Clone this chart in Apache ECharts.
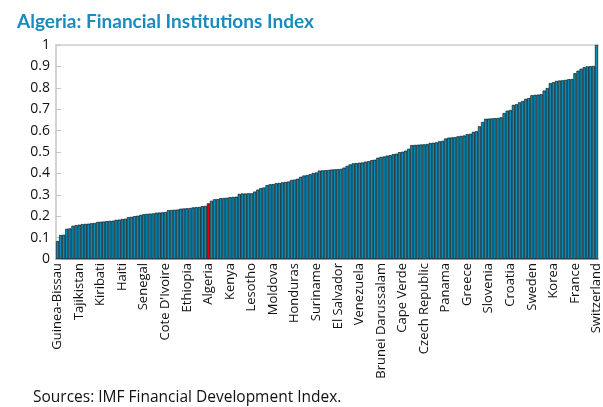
<!DOCTYPE html>
<html>
<head>
<meta charset="utf-8">
<script src="https://cdn.jsdelivr.net/npm/echarts@6/dist/echarts.min.js"></script>
<style>
  html, body { margin: 0; padding: 0; background: #fff; }
  #chart { width: 603px; height: 407px; }
</style>
</head>
<body>
<div id="chart"></div>
<script>
// countries shown on the axis, one label every 7 bars
var labelNames = ['Guinea-Bissau', 'Tajikistan', 'Kiribati', 'Haiti', 'Senegal', "Cote D'Ivoire",
  'Ethiopia', 'Algeria', 'Kenya', 'Lesotho', 'Moldova', 'Honduras', 'Suriname', 'El Salvador',
  'Venezuela', 'Brunei Darussalam', 'Cape Verde', 'Czech Republic', 'Panama', 'Greece', 'Slovenia',
  'Croatia', 'Sweden', 'Korea', 'France', 'Switzerland'];
var labelStep = 7;
var highlight = 'Algeria';

// index values, sorted ascending
var indexValues = [
  0.084, 0.112, 0.113, 0.141, 0.143, 0.155, 0.158, 0.160, 0.163, 0.164,
  0.165, 0.167, 0.168, 0.173, 0.174, 0.175, 0.177, 0.178, 0.179, 0.183,
  0.184, 0.187, 0.188, 0.195, 0.197, 0.200, 0.202, 0.206, 0.209, 0.211,
  0.212, 0.213, 0.216, 0.217, 0.218, 0.219, 0.228, 0.229, 0.230, 0.231,
  0.235, 0.236, 0.237, 0.238, 0.241, 0.242, 0.243, 0.247, 0.248, 0.260,
  0.272, 0.279, 0.280, 0.284, 0.285, 0.286, 0.289, 0.290, 0.291, 0.304,
  0.306, 0.306, 0.307, 0.307, 0.315, 0.324, 0.331, 0.334, 0.345, 0.349,
  0.350, 0.354, 0.355, 0.358, 0.360, 0.362, 0.369, 0.371, 0.375, 0.384,
  0.390, 0.392, 0.396, 0.402, 0.404, 0.413, 0.414, 0.415, 0.416, 0.418,
  0.419, 0.420, 0.421, 0.427, 0.435, 0.442, 0.447, 0.448, 0.450, 0.451,
  0.455, 0.457, 0.462, 0.464, 0.473, 0.477, 0.479, 0.483, 0.485, 0.490,
  0.492, 0.499, 0.501, 0.506, 0.515, 0.532, 0.533, 0.534, 0.535, 0.536,
  0.537, 0.542, 0.543, 0.545, 0.550, 0.552, 0.563, 0.567, 0.568, 0.569,
  0.573, 0.575, 0.577, 0.583, 0.585, 0.594, 0.597, 0.620, 0.640, 0.655,
  0.656, 0.657, 0.658, 0.659, 0.662, 0.682, 0.693, 0.696, 0.720, 0.723,
  0.732, 0.738, 0.748, 0.752, 0.765, 0.767, 0.768, 0.770, 0.787, 0.799,
  0.822, 0.826, 0.832, 0.834, 0.835, 0.837, 0.840, 0.841, 0.868, 0.880,
  0.889, 0.896, 0.900, 0.901, 0.902, 1.000
];

var categories = [];
for (var i = 0; i < indexValues.length; i++) {
  categories.push(i % labelStep === 0 ? labelNames[i / labelStep] : '');
}

var barData = [];
for (var j = 0; j < indexValues.length; j++) {
  var isHl = categories[j] === highlight;
  barData.push({
    value: indexValues[j],
    itemStyle: { color: isHl ? '#e00000' : '#0a8cb6' }
  });
}

var myChart = echarts.init(document.getElementById('chart'));
myChart.setOption({
  animation: false,
  title: {
    text: 'Algeria: Financial Institutions Index',
    left: 12,
    top: 7,
    textStyle: { color: '#1a8bbd', fontSize: 19, fontWeight: 'bold', fontFamily: 'Lato' }
  },
  graphic: [{
    type: 'text',
    left: 33,
    top: 390,
    style: { text: 'Sources: IMF Financial Development Index.', fill: '#111', font: '15.5px "Open Sans"' }
  }],
  grid: { left: 56, right: 3, top: 45, bottom: 148 },
  xAxis: [{
    type: 'category',
    data: categories,
    axisLine: { lineStyle: { color: '#8c8c8c', width: 1.5 } },
    axisTick: { show: false },
    axisLabel: {
      interval: 0,
      rotate: 90,
      margin: 4,
      color: '#111',
      fontSize: 13,
      fontFamily: 'Open Sans'
    }
  }, {
    // light rule along the top of the plot
    type: 'category',
    position: 'top',
    data: categories,
    axisLine: { lineStyle: { color: '#d9d9d9', width: 2 } },
    axisTick: { show: false },
    axisLabel: { show: false }
  }],
  yAxis: {
    type: 'value',
    min: 0,
    max: 1,
    interval: 0.1,
    axisLine: { show: true, lineStyle: { color: '#c4c4c4', width: 1.5 } },
    axisTick: { show: true, inside: true, length: 5, lineStyle: { color: '#c4c4c4' } },
    splitLine: { show: false },
    axisLabel: {
      margin: 6,
      color: '#111',
      fontSize: 14,
      fontFamily: 'Open Sans',
      formatter: function (v) { return String(+v.toFixed(1)); }
    }
  },
  series: [{
    type: 'bar',
    data: barData,
    barCategoryGap: '0%',
    itemStyle: { borderColor: '#000', borderWidth: 0.6 }
  }]
});
</script>
</body>
</html>
